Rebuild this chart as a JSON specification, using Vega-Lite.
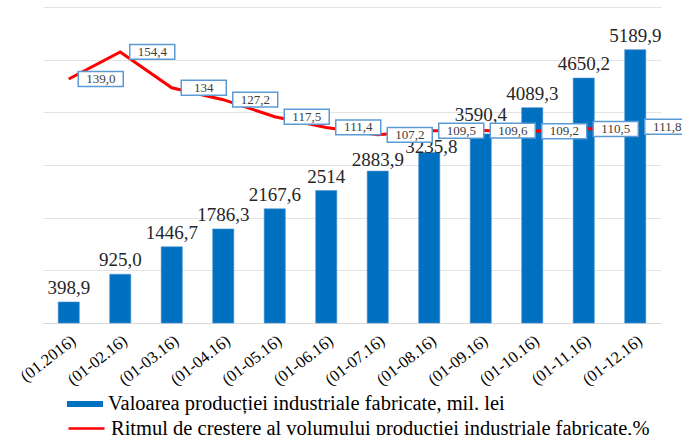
{
  "$schema": "https://vega.github.io/schema/vega-lite/v6.json",
  "autosize": {"type": "none"},
  "padding": {"left": 43, "right": 21, "top": 7, "bottom": 112},
  "width": 618,
  "height": 316,
  "background": "white",
  "title": {"text": "anii 2016-2019, %", "font": "Liberation Serif", "fontSize": 22, "fontWeight": "bold", "color": "#000000", "offset": 3, "baseline": "alphabetic", "dx": 14},
  "data": {"values": [
    {"m": "(01.2016)", "v": 398.9, "vl": "398,9", "r": 139.0, "rl": "139,0"},
    {"m": "(01-02.16)", "v": 925.0, "vl": "925,0", "r": 154.4, "rl": "154,4"},
    {"m": "(01-03.16)", "v": 1446.7, "vl": "1446,7", "r": 134, "rl": "134"},
    {"m": "(01-04.16)", "v": 1786.3, "vl": "1786,3", "r": 127.2, "rl": "127,2"},
    {"m": "(01-05.16)", "v": 2167.6, "vl": "2167,6", "r": 117.5, "rl": "117,5"},
    {"m": "(01-06.16)", "v": 2514, "vl": "2514", "r": 111.4, "rl": "111,4"},
    {"m": "(01-07.16)", "v": 2883.9, "vl": "2883,9", "r": 107.2, "rl": "107,2"},
    {"m": "(01-08.16)", "v": 3235.8, "vl": "3235,8", "r": 109.5, "rl": "109,5"},
    {"m": "(01-09.16)", "v": 3590.4, "vl": "3590,4", "r": 109.6, "rl": "109,6"},
    {"m": "(01-10.16)", "v": 4089.3, "vl": "4089,3", "r": 109.2, "rl": "109,2"},
    {"m": "(01-11.16)", "v": 4650.2, "vl": "4650,2", "r": 110.5, "rl": "110,5"},
    {"m": "(01-12.16)", "v": 5189.9, "vl": "5189,9", "r": 111.8, "rl": "111,8"}
  ]},
  "encoding": {
    "x": {"field": "m", "type": "nominal", "sort": null,
      "scale": {"paddingInner": 0, "paddingOuter": 0},
      "axis": {"title": null, "labelAngle": -38, "labelFont": "Liberation Serif", "labelFontSize": 16.5, "labelColor": "#000000", "ticks": false, "domainColor": "#D9D9D9", "labelPadding": 9}}
  },
  "layer": [
    {
      "layer": [
        {
          "mark": {"type": "bar", "width": {"band": 0.41}, "stroke": "#4A90D0", "strokeWidth": 0.6},
          "encoding": {
            "y": {"field": "v", "type": "quantitative", "scale": {"domain": [0, 6000]},
              "axis": {"title": null, "labels": false, "ticks": false, "domain": false, "grid": true, "gridColor": "#E3E3E3", "values": [0, 1000, 2000, 3000, 4000, 5000, 6000]}},
            "fill": {"datum": "Valoarea producției industriale fabricate, mil. lei", "type": "nominal", "scale": {"range": ["#0070C0"]},
              "legend": {"title": null, "orient": "none", "legendX": 24, "legendY": 379, "padding": 0, "labelFont": "Liberation Serif", "labelFontSize": 20.5, "labelColor": "#000000", "labelOffset": 5, "labelLimit": 700, "symbolType": "M-1,-0.17L1,-0.17L1,0.17L-1,0.17Z", "symbolSize": 1296, "symbolStrokeWidth": 0, "symbolOpacity": 1}}
          }
        },
        {
          "transform": [{"filter": {"not": {"field": "vl", "oneOf": ["2883,9", "3235,8", "3590,4"]}}}],
          "mark": {"type": "text", "font": "Liberation Serif", "fontSize": 19, "color": "#262626", "baseline": "alphabetic", "dy": -8},
          "encoding": {
            "y": {"field": "v", "type": "quantitative"},
            "text": {"field": "vl"}
          }
        },
        {
          "transform": [{"filter": {"field": "vl", "equal": "2883,9"}}],
          "mark": {"type": "text", "font": "Liberation Serif", "fontSize": 19, "color": "#262626", "baseline": "alphabetic", "dy": -5},
          "encoding": {
            "y": {"field": "v", "type": "quantitative"},
            "text": {"field": "vl"}
          }
        },
        {
          "transform": [{"filter": {"field": "vl", "equal": "3235,8"}}],
          "mark": {"type": "text", "font": "Liberation Serif", "fontSize": 19, "color": "#262626", "baseline": "alphabetic", "dy": 0, "dx": 2},
          "encoding": {
            "y": {"field": "v", "type": "quantitative"},
            "text": {"field": "vl"}
          }
        },
        {
          "transform": [{"filter": {"field": "vl", "equal": "3590,4"}}],
          "mark": {"type": "text", "font": "Liberation Serif", "fontSize": 19, "color": "#262626", "baseline": "alphabetic", "dy": -13},
          "encoding": {
            "y": {"field": "v", "type": "quantitative"},
            "text": {"field": "vl"}
          }
        }
      ]
    },
    {
      "layer": [
        {
          "mark": {"type": "line", "strokeWidth": 3, "interpolate": "linear"},
          "encoding": {
            "y": {"field": "r", "type": "quantitative", "scale": {"domain": [0, 180]}, "axis": null},
            "stroke": {"datum": "Ritmul de creștere al volumului producției industriale fabricate,%", "type": "nominal", "scale": {"range": ["#FF0000"]},
              "legend": {"title": null, "orient": "none", "legendX": 24, "legendY": 402, "padding": 0, "labelFont": "Liberation Serif", "labelFontSize": 20.5, "labelColor": "#000000", "labelOffset": 5, "labelLimit": 700, "symbolSize": 1296, "symbolStrokeWidth": 2.5}}
          }
        },
        {
          "mark": {"type": "point", "shape": "M-1,-0.33L1,-0.33L1,0.33L-1,0.33Z", "size": 2025, "filled": true, "fill": "white", "stroke": "#5B9BD5", "strokeWidth": 1.5, "opacity": 1, "fillOpacity": 1, "xOffset": 32},
          "encoding": {
            "y": {"field": "r", "type": "quantitative"}
          }
        },
        {
          "mark": {"type": "text", "font": "Liberation Serif", "fontSize": 13, "color": "#404040", "baseline": "middle", "xOffset": 32},
          "encoding": {
            "y": {"field": "r", "type": "quantitative"},
            "text": {"field": "rl"}
          }
        }
      ]
    }
  ],
  "resolve": {"scale": {"y": "independent"}},
  "config": {"view": {"stroke": null}}
}
